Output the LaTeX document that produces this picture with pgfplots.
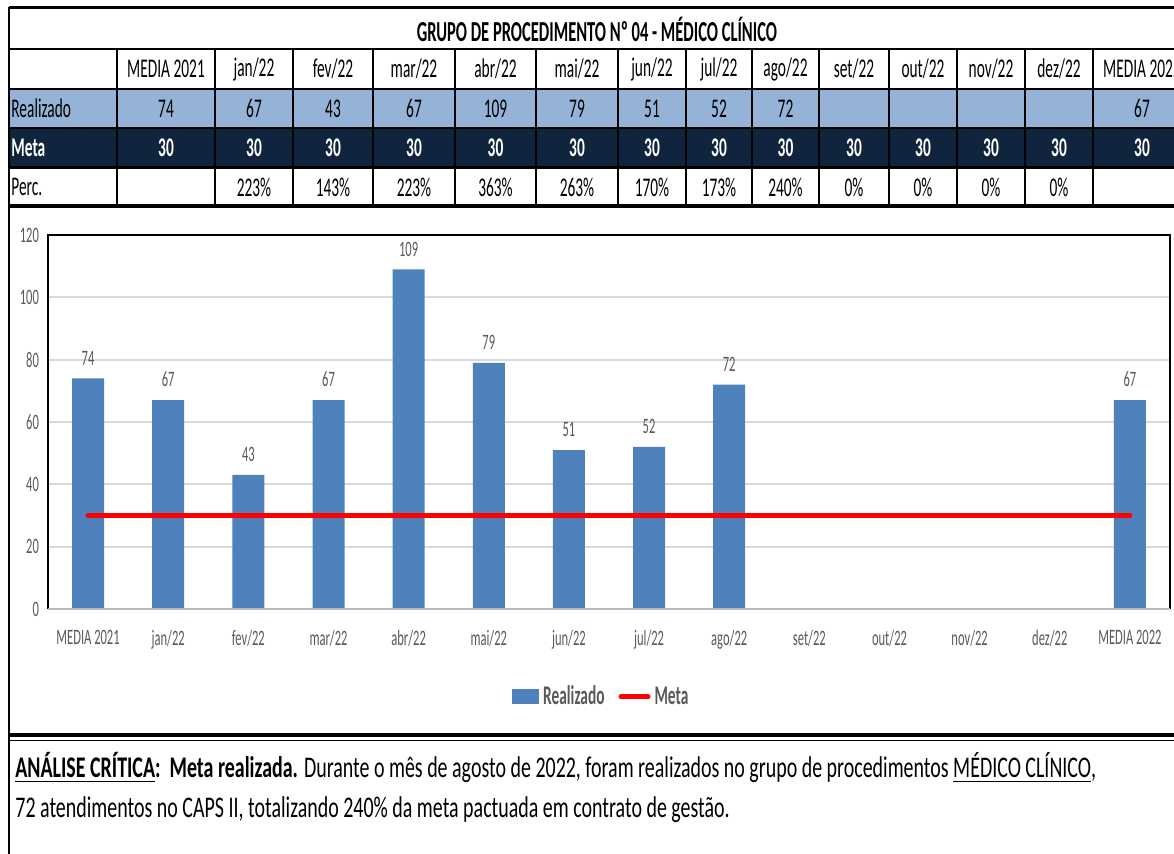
\documentclass[border=0pt]{standalone}
\usepackage{pgfplots}
\pgfplotsset{compat=1.18}
\usepackage{fontspec}
\setmainfont{Carlito}[FakeStretch=0.57]
\newfontfamily\anafont{Carlito}[FakeStretch=0.665]
\definecolor{realbg}{RGB}{149,179,215}
\definecolor{metabg}{RGB}{17,36,61}
\definecolor{barblue}{RGB}{79,129,189}
\definecolor{txtgray}{RGB}{89,89,89}
\definecolor{gridgray}{RGB}{217,217,217}
\newcommand\tbl{\fontsize{13.5}{15}\selectfont}
\newcommand\cell[3]{\node[inner sep=0,font=\tbl] at (#1,#2) {#3};}
\newcommand\mcell[2]{\node[inner sep=0,font=\tbl\bfseries,text=white] at (#1,148) {#2};}

\begin{document}
\begin{tikzpicture}
\useasboundingbox (0,0) rectangle (587pt,427pt);
\clip (0,0) rectangle (587pt,427pt);
\begin{scope}[shift={(0,427pt)},x=0.5pt,y=-0.5pt]
% table backgrounds
\fill[realbg] (9,89) rectangle (1200,128);
\fill[metabg] (9,128) rectangle (1200,168);
% table rules
\draw[line width=1.2pt] (9,7.5) -- (1200,7.5);
\draw[line width=1pt] (9,49) -- (1200,49);
\draw[line width=1pt] (9,89) -- (1200,89);
\draw[line width=1pt] (9,128) -- (1200,128);
\draw[line width=1.5pt] (9,168) -- (1200,168);
\draw[line width=2pt] (9,206) -- (1200,206);
\draw[line width=1pt] (9,7.5) -- (9,854);
\foreach \x in {117,215,293,373,455,536,618,686,752,819,889,957,1025,1093}
  \draw[line width=1pt] (\x,49) -- (\x,206);
% title
\node[inner sep=0,font=\fontsize{14.5}{16}\selectfont\bfseries] at (597,29) {GRUPO DE PROCEDIMENTO Nº 04 - MÉDICO CLÍNICO};
% header
\cell{166}{69}{MEDIA 2021}\cell{254}{69}{jan/22}\cell{333}{69}{fev/22}\cell{414}{69}{mar/22}
\cell{495.5}{69}{abr/22}\cell{577}{69}{mai/22}\cell{652}{69}{jun/22}\cell{719}{69}{jul/22}
\cell{785.5}{69}{ago/22}\cell{854}{69}{set/22}\cell{923}{69}{out/22}\cell{991}{69}{nov/22}
\cell{1059}{69}{dez/22}\cell{1142}{69}{MEDIA 2022}
% Realizado
\node[inner sep=0,anchor=west,font=\tbl] at (11,108.5) {Realizado};
\cell{166}{108.5}{74}\cell{254}{108.5}{67}\cell{333}{108.5}{43}\cell{414}{108.5}{67}
\cell{495.5}{108.5}{109}\cell{577}{108.5}{79}\cell{652}{108.5}{51}\cell{719}{108.5}{52}
\cell{785.5}{108.5}{72}\cell{1142}{108.5}{67}
% Meta
\node[inner sep=0,anchor=west,font=\tbl\bfseries,text=white] at (11,148) {Meta};
\foreach \x in {166,254,333,414,495.5,577,652,719,785.5,854,923,991,1059,1142}
  {\mcell{\x}{30}}
% Perc
\node[inner sep=0,anchor=west,font=\tbl] at (11,187) {Perc.};
\cell{254}{187}{223\%}\cell{333}{187}{143\%}\cell{414}{187}{223\%}
\cell{495.5}{187}{363\%}\cell{577}{187}{263\%}\cell{652}{187}{170\%}\cell{719}{187}{173\%}
\cell{785.5}{187}{240\%}\cell{854}{187}{0\%}\cell{923}{187}{0\%}\cell{991}{187}{0\%}
\cell{1059}{187}{0\%}
% separator under chart
\draw[line width=1.6pt] (9,735) -- (1200,735);
\draw[line width=0.8pt] (9,740.5) -- (1200,740.5);
% analysis text
\node[inner sep=0,anchor=base west,font=\anafont\fontsize{15}{17}\selectfont] at (15,778)
  {\textbf{\underline{ANÁLISE CRÍTICA}:}\ \ \textbf{Meta realizada.} Durante o mês de agosto de 2022, foram realizados no grupo de procedimentos \underline{MÉDICO CLÍNICO},};
\node[inner sep=0,anchor=base west,font=\anafont\fontsize{15}{17}\selectfont] at (15,818)
  {72 atendimentos no CAPS II, totalizando 240\% da meta pactuada em contrato de gestão.};
\end{scope}

\begin{axis}[
  at={(24pt,122.5pt)}, anchor=south west,
  scale only axis, width=561pt, height=187pt,
  xmin=-0.5, xmax=13.5, ymin=0, ymax=120,
  ytick={0,20,...,120},
  xtick={0,...,13},
  xticklabels={MEDIA 2021,jan/22,fev/22,mar/22,abr/22,mai/22,jun/22,jul/22,ago/22,set/22,out/22,nov/22,dez/22,MEDIA 2022},
  major tick length=0pt,
  ymajorgrids, grid style={gridgray,line width=1pt},
  axis line style={draw=none},
  /pgf/number format/assume math mode=true,
  tick label style={font=\fontsize{11}{13}\selectfont,text=txtgray},
  xticklabel style={yshift=-7pt},
  yticklabel style={xshift=-1pt},
  clip=false,
  legend columns=2,
  legend style={at={(0.494,-0.235)},anchor=center,draw=none,
    font=\fontsize{13.5}{15}\selectfont\bfseries,text=txtgray,
    /tikz/every even column/.append style={column sep=5pt},
    inner sep=0pt},
]
\addplot[ybar, bar width=16pt, fill=barblue, draw=none,
  nodes near coords,
  every node near coord/.append style={font=\fontsize{11}{13}\selectfont,text=txtgray,yshift=3pt},
  legend image code/.code={\fill[barblue] (0pt,-3.75pt) rectangle (13.5pt,3.75pt);}]
  coordinates {(0,74) (1,67) (2,43) (3,67) (4,109) (5,79) (6,51) (7,52) (8,72) (13,67)};
\addlegendentry{Realizado}
\addplot[red, line width=2.5pt, line cap=round,
  legend image code/.code={\draw[red,line width=2.5pt,line cap=round] (0.5pt,0pt) -- (14pt,0pt);}]
  coordinates {(0,30) (13,30)};
\addlegendentry{Meta}
\draw[black,line width=1pt] (rel axis cs:0,0) -- (rel axis cs:0,1) -- (rel axis cs:1,1) -- (rel axis cs:1,0);
\draw[gray!55,line width=1pt] (rel axis cs:0,0) -- (rel axis cs:1,0);
\end{axis}
\end{tikzpicture}
\end{document}
